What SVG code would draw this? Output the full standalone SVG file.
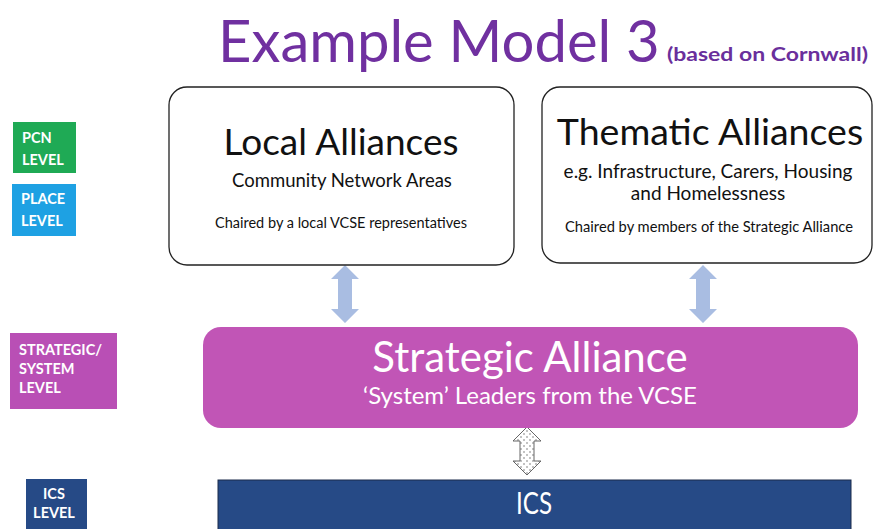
<svg xmlns="http://www.w3.org/2000/svg" width="874" height="529" viewBox="0 0 874 529">
<style>
text{font-family:Lato,"Open Sans","Liberation Sans",sans-serif}
.lvl{fill:#fff;font-weight:bold;font-size:14.5px}
.box{fill:#fff;stroke:#222;stroke-width:1.3}
.dk{fill:#111}
.arr{fill:#a9bde2}
</style>
<defs>
<pattern id="dots" width="6" height="6" patternUnits="userSpaceOnUse">
<rect width="6" height="6" fill="#fff"/>
<circle cx="2" cy="2" r="0.8" fill="#777"/>
<circle cx="5" cy="5" r="0.8" fill="#777"/>
</pattern>
</defs>
<rect width="874" height="529" fill="#fff"/>
<g id="title">
<text x="218" y="62" font-size="58" fill="#7030a0">Example Model 3</text>
<text x="667" y="61" font-size="19" fill="#6a2f9c" font-weight="bold" textLength="201" lengthAdjust="spacingAndGlyphs">(based on Cornwall)</text>
</g>
<g id="pcn-level">
<rect x="13" y="122" width="63" height="51" fill="#1faa55"/>
<text class="lvl" x="22" y="143">PCN</text>
<text class="lvl" x="22" y="165">LEVEL</text>
</g>
<g id="place-level">
<rect x="12" y="184" width="64" height="52" fill="#1ea1e3"/>
<text class="lvl" x="21" y="204">PLACE</text>
<text class="lvl" x="21" y="226">LEVEL</text>
</g>
<g id="strategic-level">
<rect x="10" y="333" width="107" height="76" fill="#b94fb5"/>
<text class="lvl" x="19" y="355">STRATEGIC/</text>
<text class="lvl" x="19" y="374">SYSTEM</text>
<text class="lvl" x="19" y="393">LEVEL</text>
</g>
<g id="ics-level">
<rect x="26" y="479" width="61" height="55" fill="#264a86"/>
<text class="lvl" x="54" y="499" text-anchor="middle">ICS</text>
<text class="lvl" x="54" y="518" text-anchor="middle">LEVEL</text>
</g>
<g id="connectors">
<path class="arr" d="M345 265 L359 279 L352 279 L352 309 L359 309 L345 323 L331 309 L338 309 L338 279 L331 279 Z"/>
<path class="arr" d="M703 265 L717 279 L710 279 L710 309 L717 309 L703 323 L689 309 L696 309 L696 279 L689 279 Z"/>
<path d="M527 427 L541 441 L534 441 L534 461 L541 461 L527 475 L513 461 L520 461 L520 441 L513 441 Z" fill="url(#dots)" stroke="#666" stroke-width="1"/>
</g>
<g id="local-alliances">
<rect class="box" x="169" y="87" width="345" height="178" rx="18"/>
<text class="dk" x="341" y="155" font-size="37" text-anchor="middle">Local Alliances</text>
<text class="dk" x="342" y="187" font-size="18.5" text-anchor="middle">Community Network Areas</text>
<text class="dk" x="341" y="228" font-size="14.5" text-anchor="middle">Chaired by a local VCSE representatives</text>
</g>
<g id="thematic-alliances">
<rect class="box" x="542" y="87" width="330" height="176" rx="18"/>
<text class="dk" x="710" y="145" font-size="37.5" text-anchor="middle">Thematic Alliances</text>
<text class="dk" x="708" y="178" font-size="19" text-anchor="middle">e.g. Infrastructure, Carers, Housing</text>
<text class="dk" x="708" y="200" font-size="19" text-anchor="middle">and Homelessness</text>
<text class="dk" x="709" y="232" font-size="14.7" text-anchor="middle">Chaired by members of the Strategic Alliance</text>
</g>
<g id="strategic-alliance">
<rect x="203" y="327" width="655" height="101" rx="18" fill="#c155b6"/>
<text x="530" y="372" font-size="42" fill="#fff" text-anchor="middle">Strategic Alliance</text>
<text x="530" y="404" font-size="24" fill="#fff" text-anchor="middle">‘System’ Leaders from the VCSE</text>
</g>
<g id="ics">
<rect x="218" y="480" width="633" height="60" fill="#264a86" stroke="#1a2a4a" stroke-width="1"/>
<text x="534" y="514" font-size="30" fill="#fff" text-anchor="middle" textLength="36" lengthAdjust="spacingAndGlyphs">ICS</text>
</g>
</svg>
